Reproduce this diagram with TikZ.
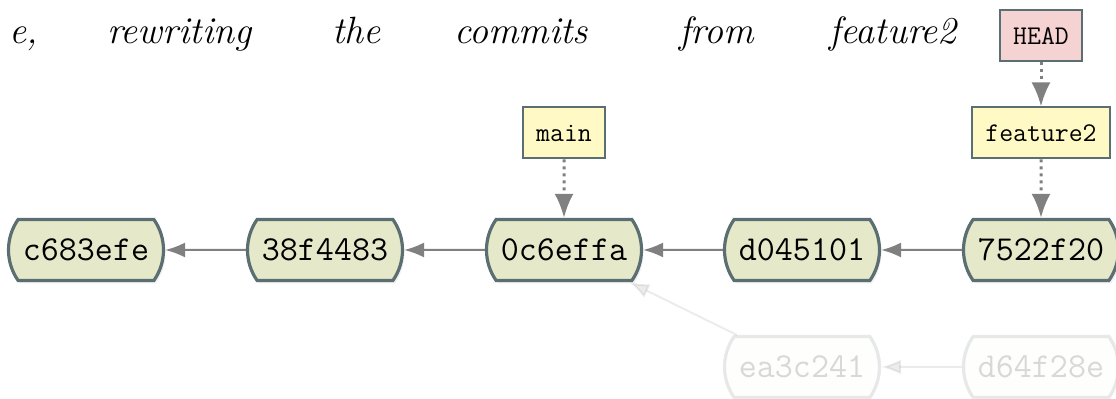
\documentclass[tikz,border=0pt]{standalone}
\usetikzlibrary{shapes.misc, arrows.meta, shadows}
\definecolor{commitfill}{HTML}{E6E9C9}
\definecolor{edge}{HTML}{5B6E71}
\definecolor{reffill}{HTML}{FFFAC5}
\definecolor{headfill}{HTML}{F6D3D3}

\begin{document}
\begin{tikzpicture}[x = 0.5pt, y = -0.5pt,
    hash/.style = {rounded rectangle, rounded rectangle arc length = 70,
      line width = 1.6pt, minimum width = 77.5pt, minimum height = 30.5pt,
      inner sep = 0pt, font = \fontsize{17.5}{21}\ttfamily},
    commit/.style = {hash, draw = edge, fill = commitfill,
      drop shadow = {shadow xshift = 1pt, shadow yshift = -1.5pt, opacity = 0.12}},
    gone/.style = {hash, draw = edge, fill = commitfill!40, opacity = 0.15},
    ref/.style = {rectangle, draw = edge, line width = 1pt, fill = reffill,
      minimum height = 25.5pt, inner xsep = 6.6pt, font = \fontsize{13.5}{16}\ttfamily},
    parent/.style = {draw = gray, line width = 1pt, -{Latex[length = 10pt, width = 7.5pt]}},
    points/.style = {draw = gray, line width = 1.5pt, dotted, -{Latex[length = 12pt, width = 9.5pt]}},
    scrawl/.style = {font = \fontsize{19}{22}\selectfont\itshape, anchor = base west}]
    \useasboundingbox (0,0) rectangle (1116,399);
    % the note written on top
    \node [scrawl, anchor = base east] (w0) at (45,44) {e,};
    \foreach \x/\w in {100/rewriting, 325/the, 447/commits, 672/from, 822/feature2}
      \node [scrawl] (w\x) at (\x,44) {\w};
    % commits
    \node [commit] (c683) at (86,250) {c683efe};
    \node [commit] (38f4) at (325,250) {38f4483};
    \node [commit] (0c6e) at (564,250) {0c6effa};
    \node [commit] (d045) at (802,250) {d045101};
    \node [commit] (7522) at (1041,250) {7522f20};
    \node [gone] (ea3c) at (802,367) {ea3c241};
    \node [gone] (d64f) at (1041,367) {d64f28e};
    % branches
    \node [ref] (main) at (564,133) {main};
    \node [ref] (feat) at (1041,133) {feature2};
    \node [ref, fill = headfill] (head) at (1041,36) {HEAD};
    \draw [parent] (38f4) -- (c683);
    \draw [parent] (0c6e) -- (38f4);
    \draw [parent] (d045) -- (0c6e);
    \draw [parent] (7522) -- (d045);
    \draw [parent, opacity = 0.15] (ea3c) -- (0c6e);
    \draw [parent, opacity = 0.15] (d64f) -- (ea3c);
    \draw [points] (main) -- (0c6e);
    \draw [points] (feat) -- (7522);
    \draw [points] (head) -- (feat);
  \end{tikzpicture}
\end{document}
